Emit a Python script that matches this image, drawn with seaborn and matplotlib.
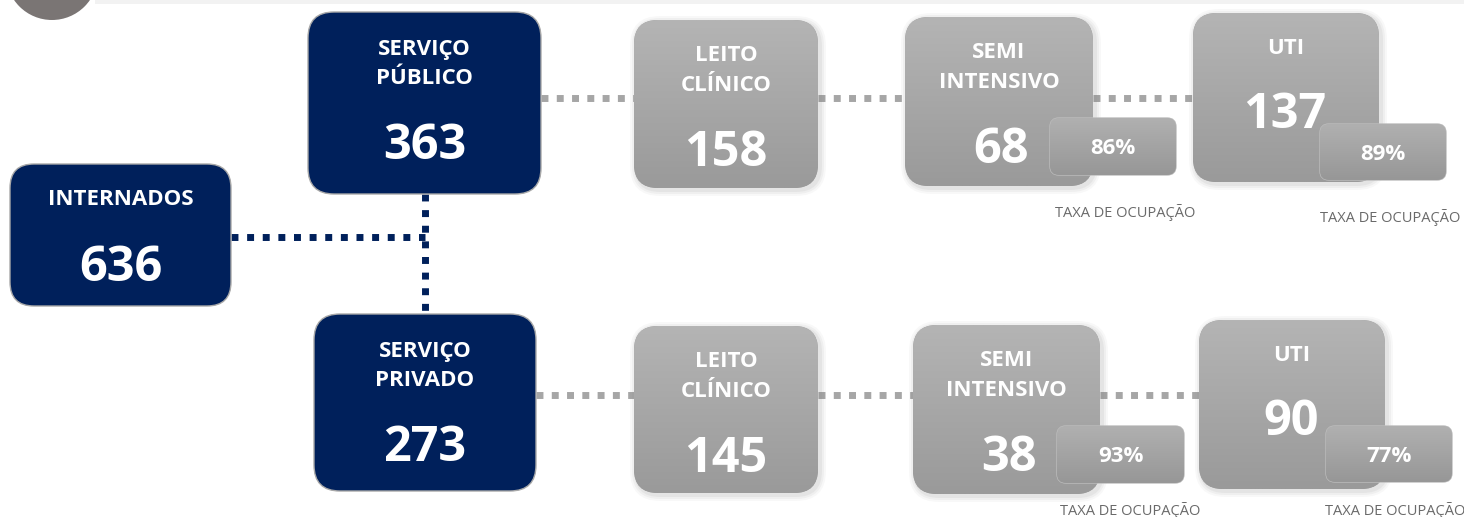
import numpy as np
import matplotlib
matplotlib.use("Agg")
import matplotlib.pyplot as plt
import seaborn as sns
from matplotlib.patches import FancyBboxPatch, Circle, Rectangle
from matplotlib.colors import LinearSegmentedColormap

# ---------------- data ----------------
total_label = "INTERNADOS"
total_value = 636
sector_labels = ["SERVIÇO\nPÚBLICO", "SERVIÇO\nPRIVADO"]
sector_values = [363, 273]
bed_labels = ["LEITO\nCLÍNICO", "SEMI\nINTENSIVO", "UTI"]
public_beds = [158, 68, 137]
private_beds = [145, 38, 90]
public_occupancy = [None, 86, 89]
private_occupancy = [None, 93, 77]
occupancy_caption = "TAXA DE OCUPAÇÃO"

# ---------------- style ----------------
sns.set_theme(style="white")
plt.rcParams['font.family'] = ['Open Sans', 'DejaVu Sans']

NAVY = "#00205b"
GRAY_TOP = "#b4b4b4"
GRAY_BOT = "#9a9a9a"
W, H = 1464, 517
LAB_FS = 16.0
NUM_FS = 35.0

fig = plt.figure(figsize=(W / 100, H / 100), dpi=100)
ax = fig.add_axes([0, 0, 1, 1])
ax.set_xlim(0, W)
ax.set_ylim(H, 0)
ax.axis("off")

gray_cmap = LinearSegmentedColormap.from_list("g", [GRAY_TOP, GRAY_BOT])
badge_cmap = LinearSegmentedColormap.from_list("b", ["#b0b0b0", "#979797"])


def rbox(x0, y0, x1, y1, r, fc=None, ec="none", lw=0.0, cmap=None, z=2, shadow=False):
    w, h = x1 - x0, y1 - y0
    if shadow:
        for k, a in [(6, 0.05), (4, 0.07), (2, 0.09)]:
            sp = FancyBboxPatch((x0 + r + 2, y0 + r + 2), w - 2 * r, h - 2 * r,
                                boxstyle=f"round,pad={r + k},rounding_size={r + k}",
                                fc="#808080", ec="none", alpha=a, zorder=z - 0.5)
            ax.add_patch(sp)
    p = FancyBboxPatch((x0 + r, y0 + r), w - 2 * r, h - 2 * r,
                       boxstyle=f"round,pad={r},rounding_size={r}",
                       fc=fc if fc else "none", ec=ec, lw=lw, zorder=z)
    ax.add_patch(p)
    if cmap is not None:
        grad = np.linspace(0, 1, 64).reshape(-1, 1)
        im = ax.imshow(grad, extent=(x0, x1, y1, y0), origin="upper", cmap=cmap,
                       aspect="auto", zorder=z + 0.1)
        im.set_clip_path(p)
    return p


def label_lines(cx, ycenter, text, fs=LAB_FS, step=30, z=5):
    # ycenter: visual centre of first line's capitals
    for j, line in enumerate(text.split("\n")):
        ax.text(cx, ycenter + 9 + j * step, line, color="white", ha="center",
                va="baseline", fontsize=fs, fontweight="bold", zorder=z)


def number(cx, cy, val, z=5):
    ax.text(cx, cy + 18, f"{val}", color="white", ha="center", va="baseline",
            fontsize=NUM_FS, fontweight="bold", zorder=z)


def dotted(xs, ys, color, lw, pattern):
    ax.plot(xs, ys, color=color, lw=lw, linestyle=(0, pattern),
            solid_capstyle="butt", dash_capstyle="butt", zorder=1)


# header decoration
ax.add_patch(Rectangle((95, 0), W - 95, 4, fc="#f2f2f2", ec="none", zorder=0))
ax.add_patch(Circle((52, -26), 46, fc="#7a7574", ec="none", zorder=1))

# ---------------- navy connectors ----------------
dotted([231, 425], [237, 237], NAVY, 5.0, (1, 1.25))
dotted([425, 425], [194, 314], NAVY, 5.0, (1, 1.25))

# ---------------- navy boxes ----------------
rbox(10, 164, 231, 306, 24, fc=NAVY, ec="#a8a8a8", lw=1.0)
label_lines(120.5, 196, total_label)
number(120.5, 263, total_value)

sector_boxes = [(308, 12, 541, 194), (314, 314, 536, 491)]
for (x0, y0, x1, y1), lab, val in zip(sector_boxes, sector_labels, sector_values):
    rbox(x0, y0, x1, y1, 26, fc=NAVY, ec="#a8a8a8", lw=1.0)
    cx = (x0 + x1) / 2
    label_lines(cx, y0 + 34, lab, step=29)
    number(cx, y0 + 129, val)

# ---------------- gray rows ----------------
rows = [
    dict(values=public_beds, occ=public_occupancy, yline=98,
         boxes=[(634, 20, 818, 188), (905, 17, 1093, 186), (1193, 13, 1379, 182)],
         badges=[None, (1050, 118, 1176, 175), (1320, 124, 1446, 180)],
         captions=[None, (1125, 212), (1390, 217)], start=541),
    dict(values=private_beds, occ=private_occupancy, yline=395,
         boxes=[(634, 326, 818, 493), (913, 325, 1100, 494), (1199, 320, 1385, 489)],
         badges=[None, (1057, 426, 1184, 483), (1326, 426, 1452, 482)],
         captions=[None, (1130, 510), (1395, 510)], start=536),
]

for row in rows:
    prev = row["start"]
    for (x0, y0, x1, y1) in row["boxes"]:
        dotted([prev, x0], [row["yline"], row["yline"]], "#a6a6a6", 5.0, (1, 1.2))
        prev = x1
    for i, ((x0, y0, x1, y1), lab, val) in enumerate(zip(row["boxes"], bed_labels, row["values"])):
        rbox(x0, y0, x1, y1, 24, fc=GRAY_BOT, cmap=gray_cmap, z=2, shadow=True)
        cx = (x0 + x1) / 2
        label_lines(cx, y0 + 32, lab)
        if lab == "UTI":
            number(cx - 1, y0 + 97, val)
        else:
            number(cx + (2 if row["occ"][i] is not None else 0), y0 + 128, val)
        if row["occ"][i] is not None:
            bx0, by0, bx1, by1 = row["badges"][i]
            rbox(bx0, by0, bx1, by1, 9, fc="#a0a0a0", ec="#bdbdbd", lw=1.0,
                 cmap=badge_cmap, z=6)
            ax.text((bx0 + bx1) / 2, (by0 + by1) / 2 + 7.5, f"{row['occ'][i]}%",
                    color="white", ha="center", va="baseline", fontsize=16,
                    fontweight="bold", zorder=8)
            capx, capy = row["captions"][i]
            ax.text(capx, capy + 5, occupancy_caption, color="#6a6a6a", ha="center",
                    va="baseline", fontsize=10.5, zorder=8)

fig.savefig("out.png", dpi=100)
